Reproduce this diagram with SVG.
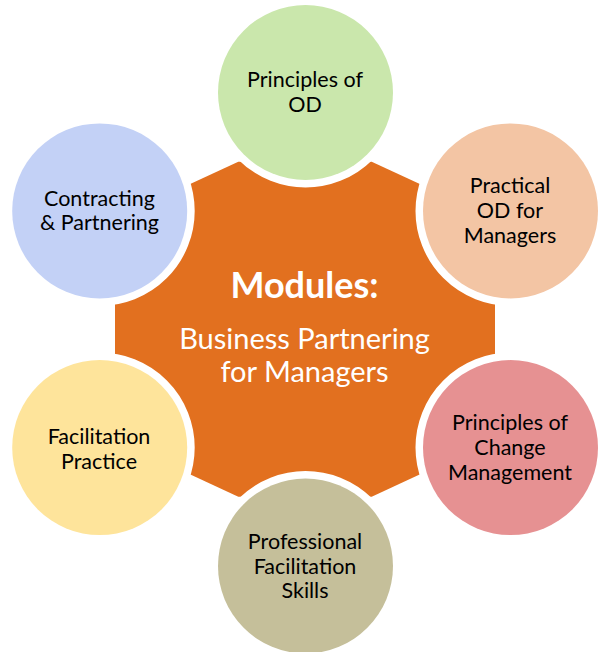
<svg xmlns="http://www.w3.org/2000/svg" width="601" height="652" viewBox="0 0 601 652">
<style>
  .node { stroke: #ffffff; stroke-width: 15; paint-order: stroke; }
  .lbl { font-family: Lato, "Open Sans", "Liberation Sans", sans-serif; font-size: 21.5px; fill: #000000; text-anchor: middle; }
  .ctr { font-family: Lato, "Open Sans", "Liberation Sans", sans-serif; fill: #ffffff; text-anchor: middle; }
</style>
<rect width="601" height="652" fill="#ffffff"/>
<g id="center">
  <polygon points="238.3,161.7 371.7,161.7 495,218.8 495,439.6 371.7,496.7 238.3,496.7 115,439.6 115,218.8" fill="#E2701F"/>
  <text class="ctr" x="304.5" y="298" font-size="36" font-weight="bold">Modules:</text>
  <text class="ctr" x="304.5" y="348.5" font-size="29">Business Partnering</text>
  <text class="ctr" x="304.5" y="381.5" font-size="29">for Managers</text>
</g>
<g id="connectors"></g>
<g id="principles-od">
  <circle class="node" cx="305.5" cy="92.5" r="87.5" fill="#CAE7AC"/>
  <text class="lbl" x="305" y="87">Principles of</text>
  <text class="lbl" x="305" y="112">OD</text>
</g>
<g id="practical-od">
  <circle class="node" cx="510.5" cy="210.9" r="87.5" fill="#F3C5A4"/>
  <text class="lbl" x="510" y="193">Practical</text>
  <text class="lbl" x="510" y="218">OD for</text>
  <text class="lbl" x="510" y="243">Managers</text>
</g>
<g id="change-management">
  <circle class="node" cx="510.5" cy="447.6" r="87.5" fill="#E69192"/>
  <text class="lbl" x="510" y="430">Principles of</text>
  <text class="lbl" x="510" y="455">Change</text>
  <text class="lbl" x="510" y="480">Management</text>
</g>
<g id="facilitation-skills">
  <circle class="node" cx="305.5" cy="566" r="87.5" fill="#C5BF9A"/>
  <text class="lbl" x="305" y="548.5">Professional</text>
  <text class="lbl" x="305" y="573.5">Facilitation</text>
  <text class="lbl" x="305" y="598">Skills</text>
</g>
<g id="facilitation-practice">
  <circle class="node" cx="99.7" cy="447.6" r="87.5" fill="#FEE49B"/>
  <text class="lbl" x="99" y="444">Facilitation</text>
  <text class="lbl" x="99" y="469">Practice</text>
</g>
<g id="contracting">
  <circle class="node" cx="99.7" cy="210.9" r="87.5" fill="#C3D1F6"/>
  <text class="lbl" x="99.5" y="206">Contracting</text>
  <text class="lbl" x="99.5" y="230">&amp; Partnering</text>
</g>
</svg>
